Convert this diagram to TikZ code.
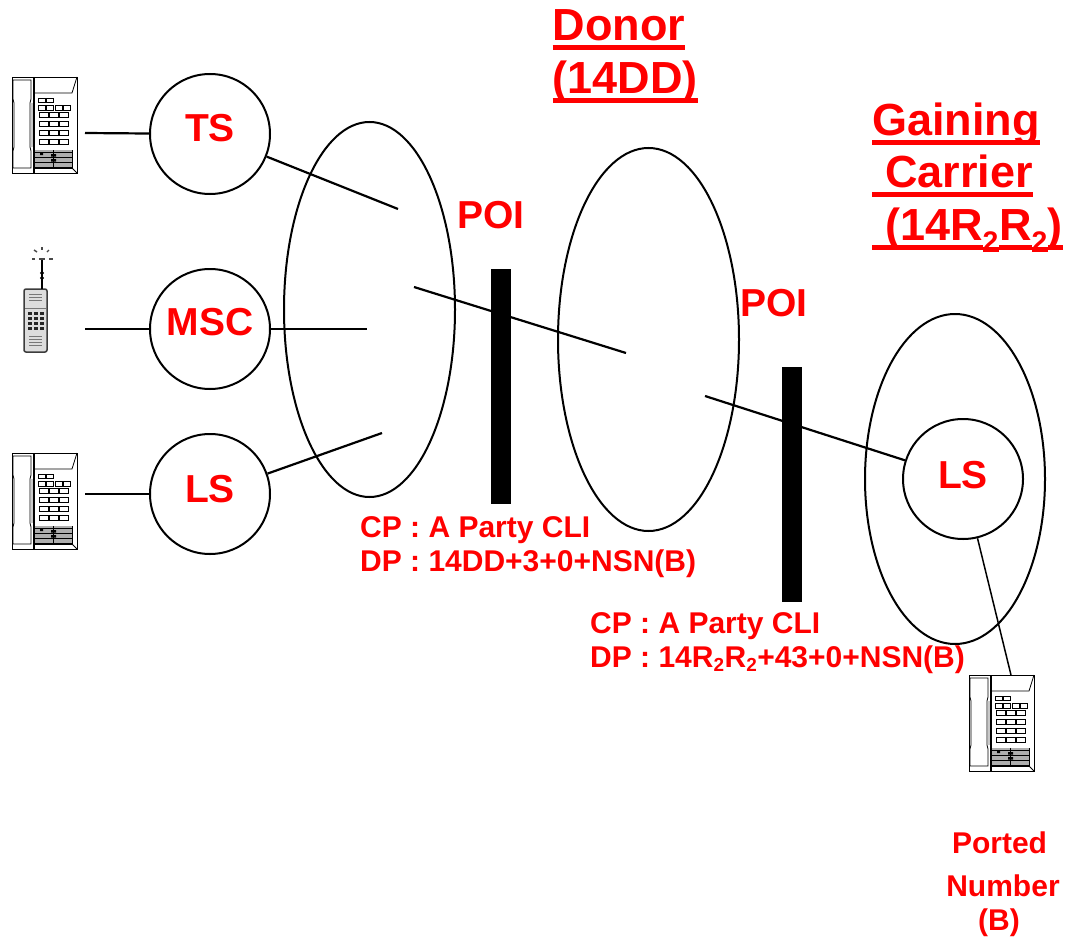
\documentclass[tikz,border=0pt]{standalone}
\usepackage{fontspec}
\setmainfont{Liberation Sans}
\usetikzlibrary{shapes.geometric}
\definecolor{poired}{RGB}{255,0,0}
\definecolor{keygrey}{RGB}{120,120,120}
\newcommand{\redline}[1]{\sbox0{#1}\rlap{\rule[-9.5pt]{\wd0}{5pt}}\box0}
\newcommand{\smalltwo}{\textsubscript{\scalebox{.9}{2}}}
\newcommand{\redtwo}{\sbox0{\smalltwo}\rlap{\rule[-12pt]{\wd0}{5pt}}\box0}
\tikzset{
    exch/.style={
        draw=black,line width=2pt,circle,minimum size=120pt,inner sep=0pt,
        align=center,text=poired,font=\fontsize{39}{44}\selectfont\bfseries
    },
    net/.style={
        draw=black,line width=2pt,ellipse,inner sep=0pt
    },
    link/.style={
        draw=black,line width=2.2pt
    },
    bar/.style={
        fill=black,draw=none,inner sep=0pt,minimum width=20pt,minimum height=235pt
    },
    poilabel/.style={
        inner sep=0pt,text=poired,font=\fontsize{39}{44}\selectfont\bfseries
    },
    owner/.style={
        inner sep=0pt,text=poired,align=left,font=\fontsize{45}{52.5}\selectfont\bfseries
    },
    signal/.style={
        inner sep=0pt,text=poired,align=left,font=\fontsize{30}{34}\selectfont\bfseries
    },
    deskphone/.pic={
        \draw[line width=.9pt] (0,0) rectangle (65,96);
        \draw[line width=.9pt] (21,0) -- (21,96) (22.5,0) -- (22.5,96);
        \draw[line width=.8pt] (65,0) -- (60,16) -- (22,16);
        \draw[line width=.8pt] (22,73) -- (60,73) -- (60,91) -- (22,91);
        \draw[line width=.8pt] (60,91) -- (65,96);
        \draw[line width=.8pt] (1,3) -- (19,3) -- (19,22) -- (18,26) -- (18,70)
            -- (19,74) -- (19,91) -- (1,91) -- (1,74) -- (2,70) -- (2,26) -- (1,22) -- cycle;
        \fill[keygrey!40] (19,26) rectangle (21,70);
        \foreach \kx in {26,34}
            \draw[line width=.8pt] (\kx,21) rectangle +(7,4);
        \foreach \kx in {26,34.5,43,51.5}
            \draw[line width=.8pt] (\kx,28) rectangle +(7,5);
        \foreach \ky in {35,44,53,62}
            \foreach \kx in {27.5,37.5,47.5}
                \draw[line width=.8pt] (\kx,\ky) rectangle +(8.5,5);
        \fill[keygrey!60] (22.5,73) rectangle (60,91);
        \foreach \ky in {75,80,85,90}
            \draw[line width=.9pt] (23,\ky) -- (60,\ky);
        \fill[black] (39,77) rectangle +(5,2.5) (39,82) rectangle +(5,2.5) (28,76) rectangle +(3,2);
        \draw[line width=.5pt] (41,73) -- (41,91);
        \coordinate (-top) at (42,0);
    },
    mobile/.pic={
        \fill[keygrey!25,rounded corners=2pt] (0,31) rectangle (23,94);
        \draw[line width=1.5pt,keygrey!50!black,rounded corners=2pt] (0,31) rectangle (23,94);
        \draw[line width=1.5pt,black] (18,31) -- (18,2);
        \draw[line width=.9pt,black] (18,15) circle (1.6) (18,20) circle (1.6);
        \foreach \sx/\sy/\ex/\ey in {8/1/11/1,15/1/21/1,25/1/29/1,10/-8/13/-6,18/-11/18/-8,25/-8/23/-6}
            \draw[line width=1.4pt,keygrey!60!black] (\sx,\sy) -- (\ex,\ey);
        \foreach \ky in {36,39,42,78,81,84,87}
            \draw[line width=.7pt,keygrey] (5,\ky) -- (18,\ky);
        \draw[line width=.7pt,keygrey] (1,50) -- (22,50);
        \foreach \ky in {54,59,64,69}
            \foreach \kx in {4,10,16}
                \fill[black!85] (\kx,\ky) rectangle +(4,3.4);
    }
}
\begin{document}
\begin{tikzpicture}[x=1pt,y=-1pt]
\useasboundingbox (0,0) rectangle (1068,942);

\node[net,minimum width=171pt,minimum height=375pt] (netA) at (369.5,309.5) {};
\node[net,minimum width=181pt,minimum height=383pt] (netB) at (648.5,339.5) {};
\node[net,minimum width=180pt,minimum height=330pt] (netC) at (955,479) {};

\node[exch] (ts) at (210,134) {\raisebox{13pt}{TS}};
\node[exch] (msc) at (210,329) {\raisebox{14pt}{MSC}};
\node[exch] (ls) at (210,494) {\raisebox{11pt}{LS}};
\node[exch] (lsb) at (963,479) {\raisebox{9pt}{LS}};

\node[bar] (barA) at (501,386.5) {};
\node[bar] (barB) at (792,484.5) {};

\pic (deskA) at (12,77) {deskphone};
\pic (cell) at (24,258) {mobile};
\pic (deskB) at (12,453) {deskphone};
\pic (deskC) at (969,675) {deskphone};

\coordinate (tsin) at (85,133);
\coordinate (mscin) at (85,329);
\coordinate (lsin) at (85,494);
\coordinate (tsout) at (398,209);
\coordinate (mscout) at (367,329);
\coordinate (lsout) at (382,433);
\coordinate (transa) at (414,287);
\coordinate (transb) at (626,353);
\coordinate (transc) at (705,396);

\draw[link] (tsin) -- (ts);
\draw[link] (mscin) -- (msc);
\draw[link] (lsin) -- (ls);
\draw[link] (ts) -- (tsout);
\draw[link] (msc) -- (mscout);
\draw[link] (ls) -- (lsout);
\draw[link] (transa) -- (transb);
\draw[link] (transc) -- (lsb);
\draw[line width=1.5pt] (lsb) -- (deskC-top);

\node[poilabel,anchor=base west] (poiA) at (457,228) {POI};
\node[poilabel,anchor=base west] (poiB) at (740,316) {POI};

\node[owner,anchor=base west] (donor) at (552.5,93)
    {\redline{Donor}\\\redline{(14DD)}};
\node[owner,anchor=base west] (gain) at (872,240)
    {\redline{Gaining}\\\redline{\hspace*{13pt}Carrier}\\\redline{\hspace*{13pt}(14R}\redtwo\redline{R}\redtwo\redline{)}};

\node[signal,anchor=base west] (sigA) at (360,571)
    {CP : A Party CLI\\DP : 14DD+3+0+NSN(B)};
\node[signal,anchor=base west] (sigB) at (590,667)
    {CP : A Party CLI\\DP : 14R\smalltwo R\smalltwo+43+0+NSN(B)};

\node[signal,anchor=base] (ported) at (999.5,853) {Ported};
\node[signal,anchor=base] (number) at (1003,896) {Number};
\node[signal,anchor=base] (partyb) at (999,930) {(B)};

\end{tikzpicture}
\end{document}
